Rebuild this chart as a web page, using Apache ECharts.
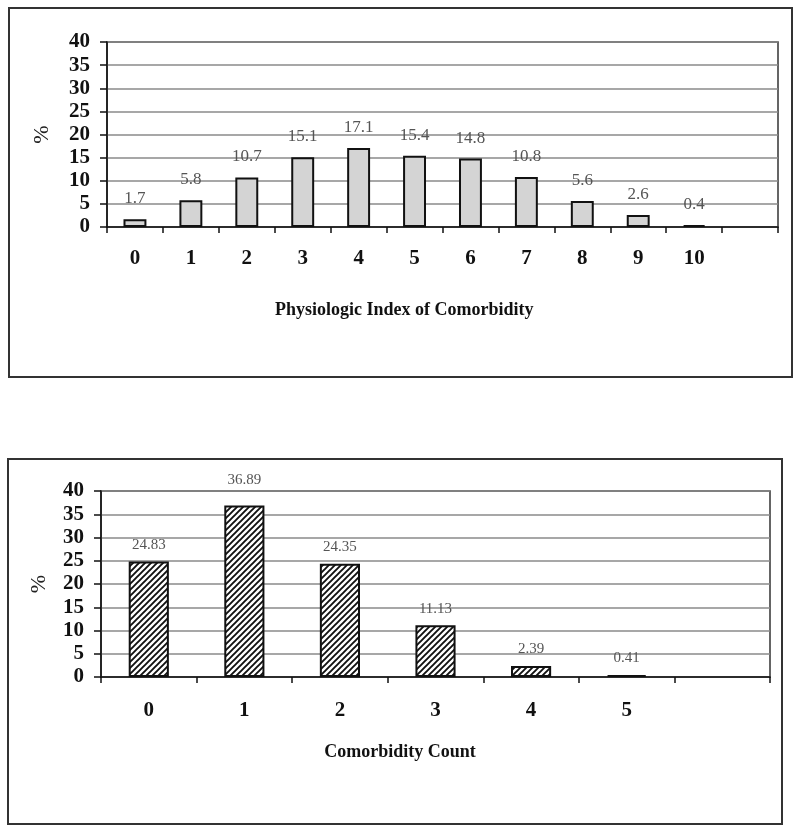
<!DOCTYPE html>
<html>
<head>
<meta charset="utf-8">
<script src="https://cdn.jsdelivr.net/npm/echarts@6/dist/echarts.min.js"></script>
<style>
  html, body { margin: 0; padding: 0; background: #fff; }
  #main { width: 800px; height: 832px; }
</style>
</head>
<body>
<div id="main"></div>
<script>
// data
var piciCategories = ['0', '1', '2', '3', '4', '5', '6', '7', '8', '9', '10', ''];
var piciValues = [1.7, 5.8, 10.7, 15.1, 17.1, 15.4, 14.8, 10.8, 5.6, 2.6, 0.4, null];
var countCategories = ['0', '1', '2', '3', '4', '5', ''];
var countValues = [24.83, 36.89, 24.35, 11.13, 2.39, 0.41, null];
var yMin = 0, yMax = 40, yStep = 5;

var serif = '"Liberation Serif", "Times New Roman", serif';

// diagonal hatch for the lower chart
function hatch() {
  var c = document.createElement('canvas');
  c.width = 6; c.height = 6;
  var ctx = c.getContext('2d');
  ctx.fillStyle = '#fff';
  ctx.fillRect(0, 0, 6, 6);
  ctx.strokeStyle = '#111';
  ctx.lineWidth = 1.9;
  ctx.beginPath();
  ctx.moveTo(-1, 7); ctx.lineTo(7, -1);
  ctx.moveTo(-4, 4); ctx.lineTo(4, -4);
  ctx.moveTo(2, 10); ctx.lineTo(10, 2);
  ctx.stroke();
  return c;
}

function xAxisFor(gridIndex, cats, labelMargin) {
  return {
    type: 'category', gridIndex: gridIndex, data: cats,
    axisLine: { lineStyle: { color: '#111', width: 1.5 } },
    axisTick: { show: true, alignWithLabel: false, length: 6, lineStyle: { color: '#111', width: 1.5 } },
    axisLabel: { interval: 0, margin: labelMargin, fontFamily: serif, fontWeight: 'bold', fontSize: 21, color: '#111' },
    splitLine: { show: false }
  };
}

function yAxisFor(gridIndex, nameGap) {
  return {
    type: 'value', gridIndex: gridIndex, min: yMin, max: yMax, interval: yStep,
    name: '%', nameLocation: 'middle', nameRotate: 90, nameGap: nameGap,
    nameTextStyle: { fontFamily: serif, fontSize: 22, color: '#222' },
    axisLine: { show: true, lineStyle: { color: '#111', width: 1.5 } },
    axisTick: { show: true, length: 7, lineStyle: { color: '#111', width: 1.5 } },
    axisLabel: { margin: 17, fontFamily: serif, fontWeight: 'bold', fontSize: 21, color: '#111' },
    splitLine: { show: true, lineStyle: { color: '#8a8a8a', width: 1.5 } }
  };
}

var countData = countValues.map(function (v, i) {
  // Excel pushed the tallest label up a little further
  if (i === 1) return { value: v, label: { distance: 18 } };
  return v;
});

var titleStyle = { fontFamily: serif, fontWeight: 'bold', fontSize: 18, color: '#111' };

var chart = echarts.init(document.getElementById('main'));
chart.setOption({
  animation: false,
  backgroundColor: '#fff',
  title: [
    { text: 'Physiologic Index of Comorbidity', left: 270, top: 296, textStyle: titleStyle },
    { text: 'Comorbidity Count', left: 'center', top: 738, textStyle: titleStyle }
  ],
  graphic: [
    { type: 'rect', shape: { x: 9, y: 8, width: 783, height: 369 },
      style: { fill: 'none', stroke: '#333', lineWidth: 2 }, z: 0 },
    { type: 'rect', shape: { x: 8, y: 459, width: 774, height: 365 },
      style: { fill: 'none', stroke: '#333', lineWidth: 2 }, z: 0 }
  ],
  grid: [
    { left: 107, top: 42, right: 22, height: 185, show: true, borderColor: '#333', borderWidth: 1.5 },
    { left: 101, top: 491, right: 30, height: 186, show: true, borderColor: '#333', borderWidth: 1.5 }
  ],
  xAxis: [xAxisFor(0, piciCategories, 21), xAxisFor(1, countCategories, 23)],
  yAxis: [yAxisFor(0, 54), yAxisFor(1, 51)],
  series: [
    {
      type: 'bar', xAxisIndex: 0, yAxisIndex: 0, data: piciValues,
      barWidth: '41%',
      itemStyle: { color: '#d4d4d4', borderColor: '#111', borderWidth: 2 },
      label: { show: true, position: 'top', distance: 12, fontFamily: serif, fontSize: 17, color: '#555' }
    },
    {
      type: 'bar', xAxisIndex: 1, yAxisIndex: 1, data: countData,
      barWidth: '42%',
      itemStyle: { color: { image: hatch(), repeat: 'repeat' }, borderColor: '#111', borderWidth: 2 },
      label: { show: true, position: 'top', distance: 9, fontFamily: serif, fontSize: 15, color: '#555' }
    }
  ]
});
</script>
</body>
</html>
